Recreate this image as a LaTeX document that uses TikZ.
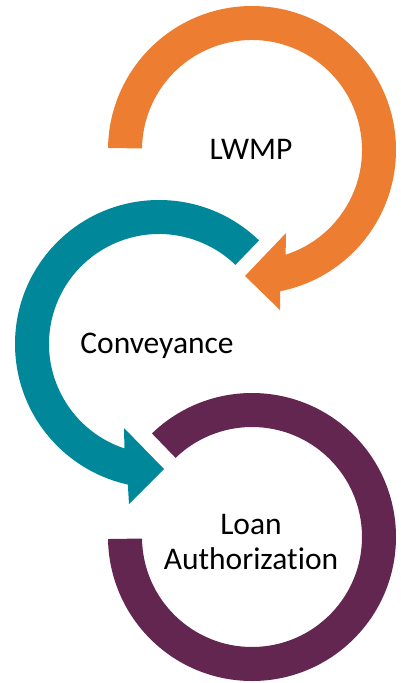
\documentclass[tikz,border=0pt]{standalone}
\usepackage{fontspec}
\setmainfont{Carlito}[Ligatures=NoCommon]
\usetikzlibrary{calc}
\definecolor{corange}{HTML}{ED7D31}
\definecolor{cteal}{HTML}{00889A}
\definecolor{cpurple}{HTML}{632651}
\begin{document}
\begin{tikzpicture}[x=1pt,y=1pt,
  txt/.style={font=\fontsize{31.5}{35}\selectfont, text=black, align=center, inner sep=0pt}]
\useasboundingbox (0,0) rectangle (400,-683);
\coordinate (OO) at (252,-150);
\coordinate (OT) at (159,-344);
\coordinate (OP) at (252,-537);
% orange arrow
\fill[corange] ($(OO)+(179.2:144pt)$) arc[start angle=179.2, end angle=-78.7, radius=144pt]
  -- (280,-310) -- (245,-276) -- (286,-233)
  -- ($(OO)+(-72.2:110pt)$) arc[start angle=-72.2, end angle=179.2, radius=110pt] -- cycle;
% teal arrow
\fill[cteal] ($(OT)+(46:144pt)$) arc[start angle=46, end angle=257.5, radius=144pt]
  -- (129,-504) -- (164,-469) -- (124,-428)
  -- ($(OT)+(251.7:110pt)$) arc[start angle=251.7, end angle=46, radius=110pt] -- cycle;
% purple arc
\fill[cpurple] ($(OP)+(134:144pt)$) arc[start angle=134, end angle=-179.2, radius=144pt]
  -- ($(OP)+(-179.2:110pt)$) arc[start angle=-179.2, end angle=134, radius=110pt] -- cycle;
% labels
\node[txt, anchor=base] (lwmp) at (251,-159) {LWMP};
\node[txt, anchor=base] (conv) at (157,-353) {Conveyance};
\node[txt, anchor=center] (loan) at (251,-542) {Loan\\Authorization};
\end{tikzpicture}
\end{document}
